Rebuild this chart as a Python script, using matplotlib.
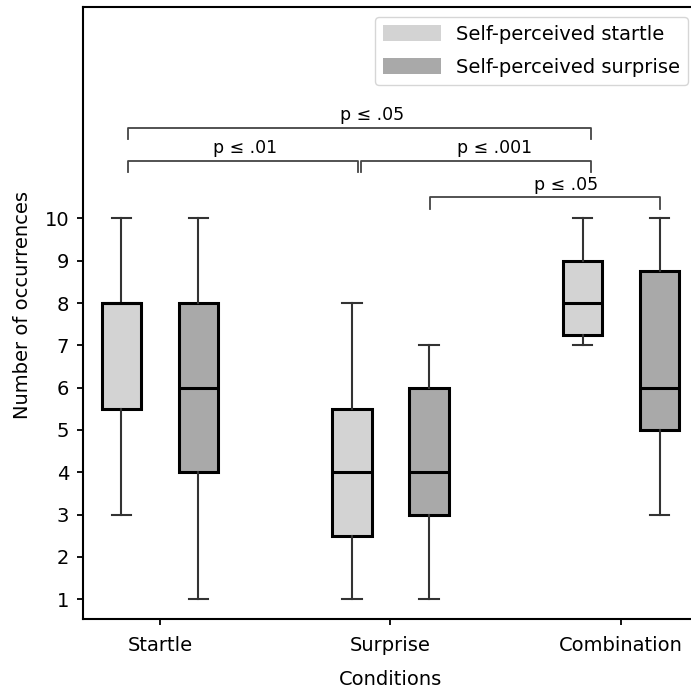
import numpy as np
import matplotlib.pyplot as plt
from matplotlib.patches import Patch

# box statistics: [whislo, q1, med, q3, whishi]
conditions = ['Startle', 'Surprise', 'Combination']
startle_stats = [
    [3, 5.5, 8, 8, 10],
    [1, 2.5, 4, 5.5, 8],
    [7, 7.25, 8, 9, 10],
]
surprise_stats = [
    [1, 4, 6, 8, 10],
    [1, 3, 4, 6, 7],
    [3, 5, 6, 8.75, 10],
]
series_labels = ['Self-perceived startle', 'Self-perceived surprise']
series_colors = ['#d3d3d3', '#a9a9a9']

# significance brackets: x0, x1, height, label, label x
brackets = [
    (-0.139, 1.87, 12.15, 'p \u2264 .05', 0.92),
    (-0.139, 0.859, 11.37, 'p \u2264 .01', 0.37),
    (0.872, 1.87, 11.37, 'p \u2264 .001', 1.45),
    (1.171, 2.169, 10.5, 'p \u2264 .05', 1.76),
]

def to_bxp(s):
    return dict(whislo=s[0], q1=s[1], med=s[2], q3=s[3], whishi=s[4], fliers=[])

plt.rcParams['font.size'] = 14
fig = plt.figure(figsize=(6.91, 6.89), dpi=100)
ax = fig.add_axes([83/691, 70/689, 615/691, 612/689])

x = np.arange(len(conditions))
off = 0.167
for stats, dx, col in [(startle_stats, -off, series_colors[0]), (surprise_stats, off, series_colors[1])]:
    ax.bxp([to_bxp(s) for s in stats], positions=x + dx, widths=0.17, patch_artist=True,
           showfliers=False,
           boxprops=dict(facecolor=col, edgecolor='black', linewidth=2.2),
           medianprops=dict(color='black', linewidth=2.2),
           whiskerprops=dict(color='#333333', linewidth=1.5),
           capprops=dict(color='#333333', linewidth=1.5))

drop = 0.28
for x0, x1, h, lab, tx in brackets:
    ax.plot([x0, x0, x1, x1], [h - drop, h, h, h - drop], color='#444444', linewidth=1.3)
    ax.text(tx, h + 0.08, lab, ha='center', va='bottom', fontsize=12.5)

ax.set_xticks(x)
ax.set_xticklabels(conditions)
ax.set_yticks(range(1, 11))
ax.tick_params(axis='x', pad=8, length=4, width=1.3)
ax.tick_params(axis='y', pad=6, length=4, width=1.3)
ax.set_xlim(-0.334, 2.334)
ax.set_ylim(0.53, 15)
ax.set_xlabel('Conditions', labelpad=11)
ax.set_ylabel('Number of occurrences')
ax.yaxis.set_label_coords(-0.083, 0.513)
for sp in ax.spines.values():
    sp.set_linewidth(1.5)

handles = [Patch(facecolor=c, edgecolor='none') for c in series_colors]
ax.legend(handles, series_labels, loc='upper right', fontsize=14,
          handlelength=3, handleheight=0.9, labelspacing=0.75)

fig.savefig('out.png', dpi=100)
